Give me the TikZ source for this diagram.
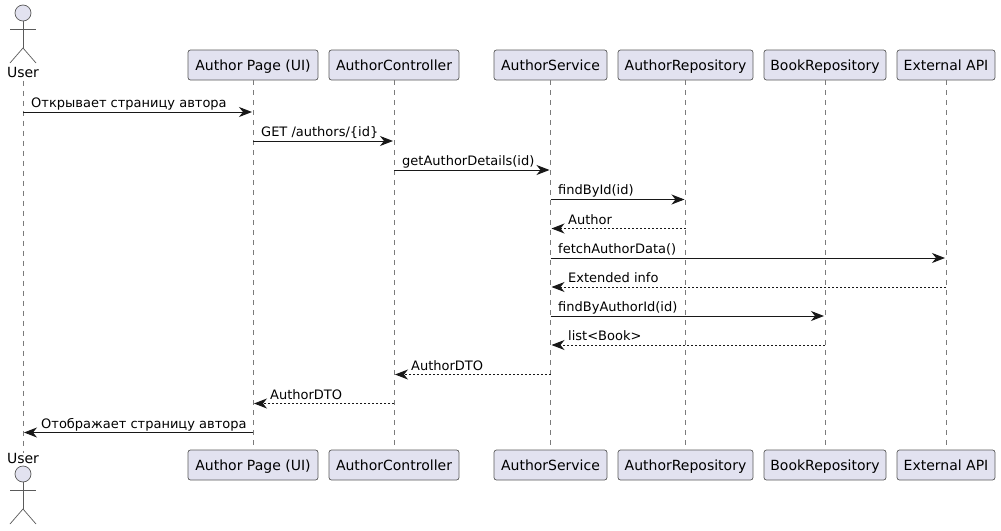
\documentclass[tikz,border=0pt]{standalone}
\usepackage{fontspec}
\setmainfont{DejaVu Sans}
\usetikzlibrary{arrows.meta}
\definecolor{pfill}{HTML}{E2E2F0}
\definecolor{pline}{HTML}{181818}
\definecolor{soft}{HTML}{5A5A5A}
\tikzset{
  x=1pt,y=-1pt,
  part/.style={draw=soft,fill=pfill,line width=0.7pt,rounded corners=2.5pt,minimum height=30pt,inner sep=0pt,text height=10pt,text depth=0pt,font=\fontsize{14}{16}\selectfont,text=black},
  actorname/.style={inner sep=0pt,text height=10pt,text depth=3pt,font=\fontsize{14}{16}\selectfont,text=black},
  life/.style={draw=soft!80,line width=0.6pt,dash pattern=on 5pt off 5pt},
  actorline/.style={draw=soft,line width=0.7pt},
  msg/.style={draw=pline,line width=1pt,-{Stealth[length=13pt,width=10pt,inset=4pt,fill=pline]},shorten >=1pt},
  ret/.style={msg,dash pattern=on 2pt off 2pt},
  lbl/.style={inner sep=0pt,anchor=base west,font=\fontsize{13}{15}\selectfont,text=black},
}
\newcommand{\actorfig}[2]{%
  \draw[actorline,fill=pfill] (#1,#2) circle (8);
  \draw[actorline] (#1,#2+8) -- (#1,#2+35);
  \draw[actorline] (#1-13,#2+16) -- (#1+13,#2+16);
  \draw[actorline] (#1-13,#2+50) -- (#1,#2+35) -- (#1+13,#2+50);
}
\begin{document}
\begin{tikzpicture}
\useasboundingbox (0,0) rectangle (1001,530);
% participants, top
\node[actorname] (u) at (23,74) {User};
\node[part,minimum width=130pt] (a) at (253,65) {Author Page (UI)};
\node[part,minimum width=130pt] (c) at (394,65) {AuthorController};
\node[part,minimum width=113pt] (s) at (550.5,65) {AuthorService};
\node[part,minimum width=135pt] (r) at (685.5,65) {AuthorRepository};
\node[part,minimum width=122pt] (b) at (825,65) {BookRepository};
\node[part,minimum width=98pt] (e) at (946,65) {External API};
% participants, bottom
\node[actorname] (u2) at (23,459.5) {User};
\node[part,minimum width=130pt] (a2) at (253,465) {Author Page (UI)};
\node[part,minimum width=130pt] (c2) at (394,465) {AuthorController};
\node[part,minimum width=113pt] (s2) at (550.5,465) {AuthorService};
\node[part,minimum width=135pt] (r2) at (685.5,465) {AuthorRepository};
\node[part,minimum width=122pt] (b2) at (825,465) {BookRepository};
\node[part,minimum width=98pt] (e2) at (946,465) {External API};
% lifelines
\draw[life] (u.south) -- (u2.north);
\draw[life] (a.south) -- (a2.north);
\draw[life] (c.south) -- (c2.north);
\draw[life] (s.south) -- (s2.north);
\draw[life] (r.south) -- (r2.north);
\draw[life] (b.south) -- (b2.north);
\draw[life] (e.south) -- (e2.north);
% actors
\actorfig{23}{13}
\actorfig{23}{474}
% rows
\foreach \n/\y in {1/112,2/141,3/170,4/199.5,5/228.5,6/258,7/287,8/316,9/345,10/374.5,11/403.5,12/432.5}{
  \coordinate (y\n) at (0,\y);
}
% messages
\draw[msg] (u |- y1) -- (a |- y1);
\node[lbl] at (31,107) {Открывает страницу автора};
\draw[msg] (a |- y2) -- (c |- y2);
\node[lbl] at (261,136) {GET /authors/\{id\}};
\draw[msg] (c |- y3) -- (s |- y3);
\node[lbl] at (402,165) {getAuthorDetails(id)};
\draw[msg] (s |- y4) -- (r |- y4);
\node[lbl] at (558,194) {findById(id)};
\draw[ret] (r |- y5) -- (s |- y5);
\node[lbl] at (568,224) {Author};
\draw[msg] (s |- y6) -- (e |- y6);
\node[lbl] at (558,253) {fetchAuthorData()};
\draw[ret] (e |- y7) -- (s |- y7);
\node[lbl] at (568,282) {Extended info};
\draw[msg] (s |- y8) -- (b |- y8);
\node[lbl] at (558,311) {findByAuthorId(id)};
\draw[ret] (b |- y9) -- (s |- y9);
\node[lbl] at (568,340) {list<Book>};
\draw[ret] (s |- y10) -- (c |- y10);
\node[lbl] at (411,370) {AuthorDTO};
\draw[ret] (c |- y11) -- (a |- y11);
\node[lbl] at (270,399) {AuthorDTO};
\draw[msg] (a |- y12) -- (u |- y12);
\node[lbl] at (41,428) {Отображает страницу автора};
\end{tikzpicture}
\end{document}
